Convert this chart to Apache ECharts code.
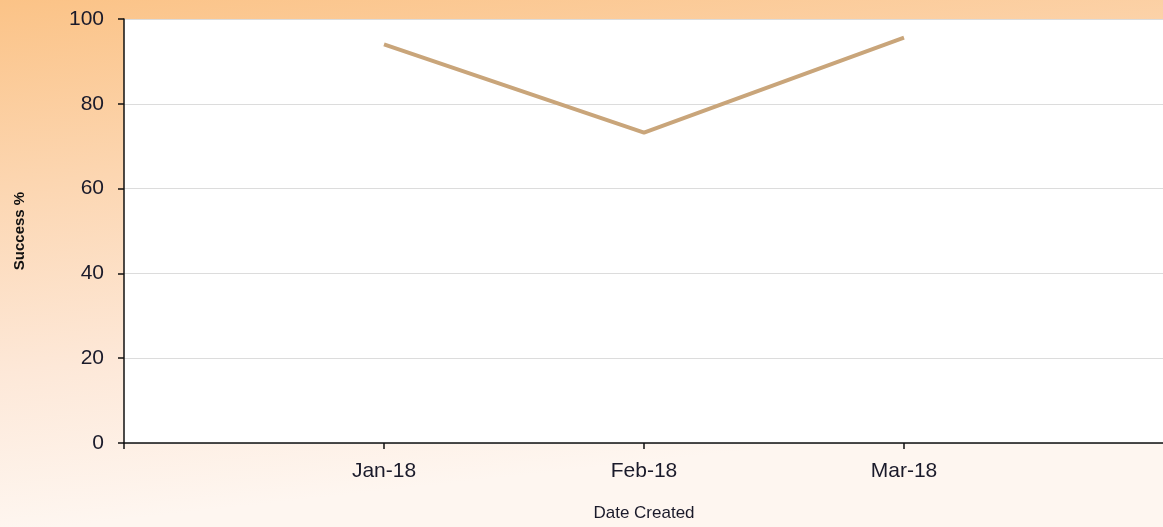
<!DOCTYPE html>
<html>
<head>
<meta charset="utf-8">
<title>Success %</title>
<script src="https://cdn.jsdelivr.net/npm/echarts@6/dist/echarts.min.js"></script>
<style>
  html, body { margin: 0; padding: 0; overflow: hidden; }
  #chart { width: 1163px; height: 527px; }
</style>
</head>
<body>
<div id="chart"></div>
<script>
// data
var months = ['Jan-18', 'Feb-18', 'Mar-18'];
var success = [94, 73.2, 95.6];

// empty slots either side so the months sit where they do in the original
var cats = [''].concat(months, ['']);
var seriesData = [null].concat(success, [null]);

var chart = echarts.init(document.getElementById('chart'));
chart.setOption({
    backgroundColor: {
        type: 'linear', x: 0, y: 0, x2: 0.05, y2: 1,
        colorStops: [
            { offset: 0, color: '#fbc387' },
            { offset: 0.35, color: '#fcd6b1' },
            { offset: 0.7, color: '#fde8d8' },
            { offset: 1, color: '#fef6f0' }
        ]
    },
    textStyle: { fontFamily: 'Liberation Sans, Arial, sans-serif' },
    grid: {
        left: 124, right: -1, top: 19, bottom: 84,
        outerBoundsMode: 'none',
        show: true, backgroundColor: '#ffffff', borderWidth: 0
    },
    xAxis: {
        type: 'category',
        data: cats,
        boundaryGap: false,
        name: 'Date Created',
        nameLocation: 'middle',
        nameGap: 62,
        nameTextStyle: { fontSize: 17, color: '#1a1a2a' },
        axisLine: { lineStyle: { color: '#111', width: 1.5 } },
        axisTick: { length: 6, lineStyle: { color: '#111', width: 1.5 } },
        axisLabel: { fontSize: 21, color: '#1a1a2a', margin: 18 },
        splitLine: { show: false }
    },
    yAxis: {
        type: 'value',
        min: 0, max: 100, interval: 20,
        name: 'Success %',
        nameLocation: 'middle',
        nameGap: 97,
        nameTextStyle: { fontSize: 15, fontWeight: 'bold', color: '#111' },
        axisLine: { show: true, lineStyle: { color: '#111', width: 1.5 } },
        axisTick: { show: true, length: 6, lineStyle: { color: '#111', width: 1.5 } },
        axisLabel: { fontSize: 21, color: '#1a1a2a', margin: 20 },
        splitLine: { lineStyle: { color: '#dcdcdc', width: 1 } }
    },
    series: [{
        type: 'line',
        data: seriesData,
        symbol: 'none',
        connectNulls: false,
        lineStyle: { color: '#c9a57a', width: 4 }
    }]
});
</script>
</body>
</html>
